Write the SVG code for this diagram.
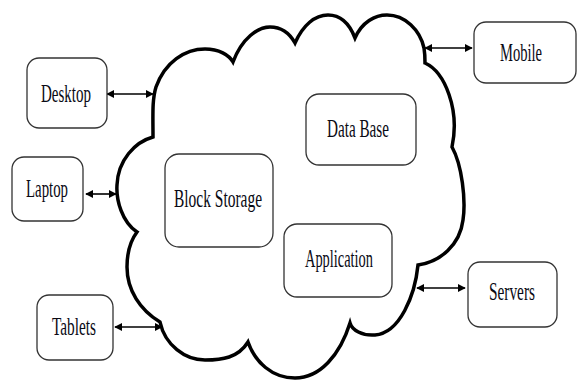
<svg xmlns="http://www.w3.org/2000/svg" width="581" height="382" viewBox="0 0 581 382">
<defs>
<marker id="ah" viewBox="0 0 10 10" refX="9" refY="5" markerWidth="8" markerHeight="8" markerUnits="userSpaceOnUse" orient="auto-start-reverse">
<path d="M0,0 L10,5 L0,10 Z" fill="#000"/>
</marker>
<style>
.box{fill:#fff;stroke:#333;stroke-width:1.3}
.lbl{font-family:"Liberation Serif","Times New Roman",serif;font-size:26px;fill:#0a0a14}
.cloud{fill:none;stroke:#000;stroke-width:3.5;stroke-linejoin:miter}
.conn{stroke:#000;stroke-width:1.6;fill:none;marker-start:url(#ah);marker-end:url(#ah)}
</style>
</defs>
<rect width="581" height="382" fill="#fff"/>
<g id="cloud">
<path class="cloud" d="M153,137 C153,115 152,100 156,87 C165,62 185,49 205,49 C219,49 229,55 233,62 C242,38 258,27 270,27 C282,27 290,34 295,43 C303,25 315,15 328,15 C342,15 350,25 355,38 C362,22 375,15 387,15 C405,15 420,30 424,48 C425,54 425,58 425,63 C445,72 460,110 452,147 C462,165 466,200 463,220 C460,245 440,262 418,265 C415,295 400,333 375,335 C362,336 352,330 350,323 C340,355 320,378 295,378 C272,378 255,362 248,342 C238,358 222,360 205,360 C185,360 165,345 160,322 C140,310 127,290 127,267 C127,252 131,240 137,232 C122,222 116,200 117,185 C118,160 135,142 153,137 Z"/>
</g>
<g id="connectors">
<line class="conn" x1="107" y1="94" x2="153" y2="94"/>
<line class="conn" x1="86" y1="194" x2="116" y2="194"/>
<line class="conn" x1="115" y1="327" x2="162" y2="327"/>
<line class="conn" x1="425" y1="48" x2="472" y2="48"/>
<line class="conn" x1="417" y1="288" x2="465" y2="288"/>
</g>
<g id="desktop">
<rect class="box" x="27" y="58" width="80" height="70" rx="12"/>
<text class="lbl" x="41" y="102" textLength="50" lengthAdjust="spacingAndGlyphs">Desktop</text>
</g>
<g id="laptop">
<rect class="box" x="12" y="157" width="71" height="64" rx="12"/>
<text class="lbl" x="26" y="197" textLength="42" lengthAdjust="spacingAndGlyphs">Laptop</text>
</g>
<g id="tablets">
<rect class="box" x="37" y="295" width="76" height="65" rx="12"/>
<text class="lbl" x="52" y="335" textLength="44" lengthAdjust="spacingAndGlyphs">Tablets</text>
</g>
<g id="block-storage">
<rect class="box" x="165" y="154" width="108" height="93" rx="14"/>
<text class="lbl" x="174" y="207" textLength="88" lengthAdjust="spacingAndGlyphs">Block Storage</text>
</g>
<g id="data-base">
<rect class="box" x="306" y="94" width="110" height="71" rx="13"/>
<text class="lbl" x="327" y="137" textLength="62" lengthAdjust="spacingAndGlyphs">Data Base</text>
</g>
<g id="application">
<rect class="box" x="284" y="224" width="108" height="73" rx="13"/>
<text class="lbl" x="305" y="267" textLength="68" lengthAdjust="spacingAndGlyphs">Application</text>
</g>
<g id="mobile">
<rect class="box" x="474" y="22" width="102" height="61" rx="12"/>
<text class="lbl" x="500" y="61" textLength="42" lengthAdjust="spacingAndGlyphs">Mobile</text>
</g>
<g id="servers">
<rect class="box" x="468" y="262" width="89" height="65" rx="12"/>
<text class="lbl" x="489" y="300" textLength="46" lengthAdjust="spacingAndGlyphs">Servers</text>
</g>
</svg>
